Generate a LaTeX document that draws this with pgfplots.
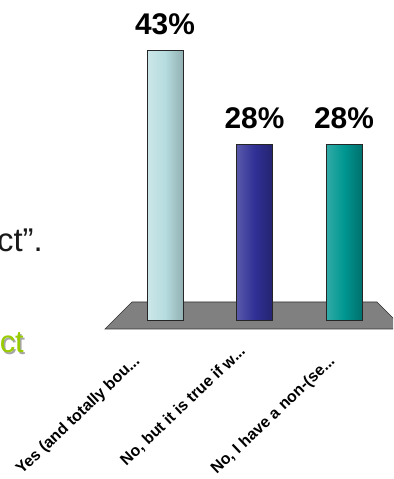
\documentclass[border=0pt]{standalone}
\usepackage{fontspec}
\setmainfont{Liberation Sans}
\usepackage{pgfplots}
\pgfplotsset{compat=1.18}
\definecolor{barA}{RGB}{182,220,223}
\definecolor{barB}{RGB}{48,48,150}
\definecolor{barC}{RGB}{0,150,145}
\definecolor{floorgray}{RGB}{128,128,128}
\definecolor{lime}{RGB}{153,204,0}
\newcommand{\dd}{.{}.{}.}
\begin{document}
\begin{tikzpicture}[x=1bp,y=1bp]
\useasboundingbox (0,0) rectangle (393,479);
\clip (0,0) rectangle (393,479);
\node[anchor=base east, inner sep=0pt, font=\fontsize{33}{38}\selectfont, text=black!90] at (43,227) {ct”.};
\node[anchor=base east, inner sep=0pt, font=\fontsize{31}{36}\selectfont, text=black!35] at (25.5,124.5) {ct};
\node[anchor=base east, inner sep=0pt, font=\fontsize{31}{36}\selectfont, text=lime] at (24,126) {ct};
\begin{axis}[
  at={(102.35bp,120bp)}, anchor=south west,
  scale only axis, width=304.3bp, height=321.5bp,
  xmin=-0.7, xmax=2.7, ymin=-6.21, ymax=45,
  clip=false,
  axis line style={draw=none},
  major tick length=0pt,
  ytick=\empty,
  xtick={-0.302,0.760,1.877},
  xticklabels={Yes (and totally bou\dd,{No, but it is true if w\dd\kern-14bp},{No, I have a non-(se\dd}},
  xticklabel style={font=\fontsize{16}{18}\selectfont\bfseries, inner sep=0pt, rotate=43.5, anchor=east},
  /pgf/number format/assume math mode=true,
  nodes near coords={\pgfmathprintnumber{\pgfplotspointmeta}\%},
  nodes near coords style={font=\fontsize{30}{34}\selectfont\bfseries, anchor=base, inner sep=0pt, yshift=16bp, text=black},
]
\fill[floorgray, draw=black!80, line width=0.6pt] (axis cs:-0.369,2.87) -- (axis cs:2.369,2.87) -- (axis cs:2.67,-1.43) -- (axis cs:-0.67,-1.43) -- cycle;
\addplot[ybar, bar width=36bp, bar shift=0pt, draw=black!85, line width=0.6pt, left color=barA!70!white, right color=barA!80!black, middle color=barA] coordinates {(0,43)};
\addplot[ybar, bar width=36bp, bar shift=0pt, draw=black!85, line width=0.6pt, left color=barB!80!white, right color=barB!75!black, middle color=barB] coordinates {(1,28)};
\addplot[ybar, bar width=36bp, bar shift=0pt, draw=black!85, line width=0.6pt, left color=barC!80!white, right color=barC!75!black, middle color=barC] coordinates {(2,28)};
\end{axis}
\end{tikzpicture}
\end{document}
